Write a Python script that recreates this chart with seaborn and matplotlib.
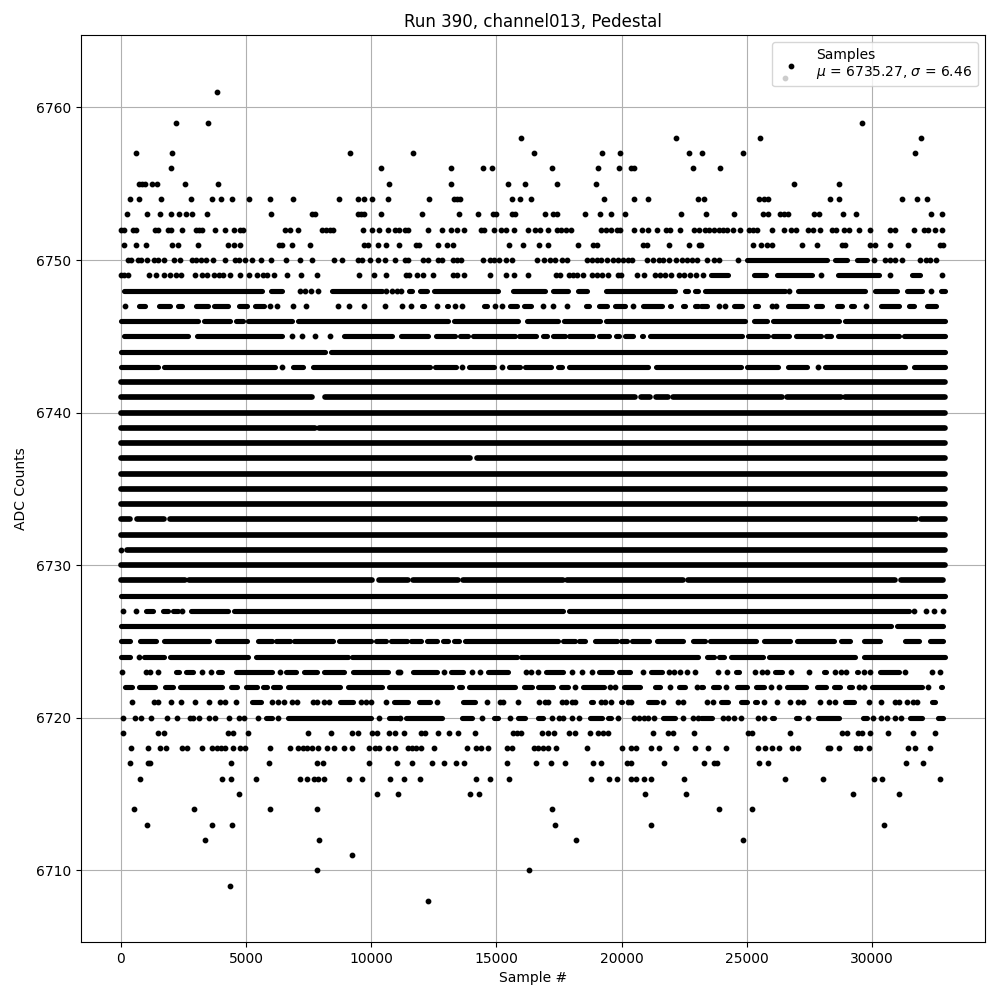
import matplotlib
matplotlib.use("Agg")
import matplotlib.pyplot as plt
from matplotlib.legend_handler import HandlerBase
from matplotlib.lines import Line2D
import pandas as pd
import seaborn as sns

# --- single samples, one list per ADC level ---
pts_6761 = [3842]
pts_6759 = [2203, 3482, 29609]
pts_6758 = [15985, 22179, 25533, 31967]
pts_6757 = [605, 2043, 9156, 11670, 16505, 19222, 19942, 22699, 23215, 24854, 31727]
pts_6756 = [2003, 10395, 13188, 14467, 14827, 17224, 19062, 19902, 20381, 20501, 22859, 23935]
pts_6755 = [725, 845, 965, 1231, 1444, 2563, 3882, 10715, 13188, 15466, 16145, 17424, 18983, 26892, 28690]
pts_6754 = [365, 725, 1604, 2803, 3642, 3988, 4441, 5120, 5960, 6879, 8717, 9476, 9716, 10036, 10675,
            12309, 13308, 13428, 13548, 15626, 15946, 16385, 19302, 20501, 21060, 23058,
            23295, 25493, 25693, 25853, 28330, 28690, 31207, 31807, 32207]
pts_6753 = [245, 1044, 1564, 2003, 2323, 2616, 2843, 3442, 6000, 7638, 7758, 9476, 9596, 9716, 10395,
            12029, 13508, 14267, 14867, 14986, 15626, 15746, 16945, 17264, 17424, 18543, 19142, 19582,
            20141, 22379, 23375, 24494, 25653, 25853, 26332, 26492, 26652, 27691, 27891, 28850, 29369,
            32366, 32806]
pts_6752 = [5, 112, 472, 592, 1364, 1484, 1884, 2003, 2443, 3002, 3122, 3242, 3762, 4148, 4521, 4761, 4881,
            6559, 6759, 7078, 8037, 8197, 8357, 8477, 9676, 10036, 10315, 10675, 10955, 11114,
            11350, 11470, 12269, 12829, 13188, 13428, 13708, 14387, 14507, 14907, 15186, 15386, 15706,
            16265, 16545, 16745, 17064, 17424, 17584, 17784, 17983, 19182, 19382, 19582, 19822, 19942,
            20501, 20821, 21060, 21420, 21780, 21940, 22339, 22899, 23098,
            23335, 23495, 23695, 23895, 24055, 24214, 24454, 24734, 25094, 25253, 25413, 26013, 26492,
            26772, 26972, 27451, 27651, 27931, 28410, 28570, 28890, 29090, 29489, 29929, 30728, 30928,
            31687, 32087, 32246, 32526, 32806]
pts_6751 = [125, 605, 1004, 2043, 2283, 3082, 4281, 4521, 4761, 6319, 6439, 6839, 7558, 9716, 9876, 10275,
            10595, 11114, 11790, 11910, 12669, 13028, 13268, 15506, 16065, 16705, 17064, 18263, 18863,
            19022, 20861, 21021, 21900, 22699, 23098, 23175, 25253, 25573, 25813, 26013, 27212, 27811,
            28810, 28930, 29929, 30129, 30728, 31447, 32726, 32846]
pts_6750 = [285, 405, 685, 805, 1058, 1324, 1484, 1724, 2123, 2363, 2843, 3016, 3216, 3415, 3682, 4161, 4561,
            4721, 4961, 5254, 5600, 6000, 6599, 7158, 7638, 8517, 8837, 9476, 9636, 9956, 10275, 10555,
            10955, 11350, 11470, 12069, 12269, 12669, 12829, 13268, 13428, 13588, 14467, 14747, 14907,
            15106, 15386, 15626, 16625, 16905, 17144, 17344, 17624, 17824, 18623, 18823, 19022, 19182,
            19422, 19662, 19862, 20061, 20261, 20421, 21021, 21260, 21500, 21660, 21900, 22179, 22419,
            22619, 22819, 23019, 23415, 23695, 23895, 24654, 30089, 30528, 30728, 30928, 31207, 31927,
            32167, 32326, 32566]
pts_6749 = [5, 125, 285, 1124, 1404, 1724, 1977, 2217, 2403, 2949, 3256, 3442, 3722, 3922, 4081, 4361, 4761,
            5120, 5440, 5680, 5840, 6120, 6639, 7198, 7838, 9516, 10115, 10595, 11390, 11510, 11830, 12069,
            12469, 13268, 13428, 13708, 14747, 15386, 15706, 16265, 17384, 17544, 17904, 18064, 18223,
            18463, 18823, 19022, 19222, 19462, 19862, 19981, 20621, 20901, 21340, 21540, 21740, 21980,
            22299, 22499, 22739, 22979, 23255, 27971, 30728, 32806]
pts_6748 = [7158, 7358, 7585, 7864, 10608, 10848, 11034, 11204, 26692, 32366]
pts_6747 = [179, 5960, 6239, 6879, 7398, 8677, 9116, 9716, 10555, 11230, 11603, 12629, 13348, 13628, 14947,
            15226, 16865, 17264, 17824, 20461, 23895, 24135, 26013, 26172, 29769]
pts_6745 = [6852, 7238, 7744, 8344]
pts_6743 = [6439, 13628, 15226, 27837]
pts_6731 = [19]
pts_6727 = [99, 618, 2443, 31687, 32167, 32486, 32832]
pts_6724 = [725]
pts_6723 = [45, 1004, 1164, 1484, 3242, 3602, 6359, 11074, 11137, 12909, 14027, 14347, 16185, 16385, 16665,
            18023, 18436, 18823, 20861, 21900, 22099, 22339, 22619, 22939, 23855, 24214, 25333, 25613,
            25813, 26772, 27491, 28530, 28770, 28970, 29689, 29929, 31327, 32406, 32726]
pts_6722 = [18143, 19542, 19742, 21940, 23019, 24174, 25973, 26292, 29489, 29689, 32246]
pts_6721 = [445, 1324, 1484, 2003, 2403, 2963, 3522, 3962, 4161, 4601, 6040, 6279, 6519, 6839, 7038, 7678,
            7838, 8117, 8317, 9596, 9796, 9996, 10595, 12629, 14627, 15146, 15266, 15866, 16705, 16945,
            17064, 17624, 17797, 18023, 18143, 19182, 19342, 19582, 20261, 20381, 21660, 22259, 22459,
            23415, 23655, 25693, 26212, 26732, 27052, 27252, 27931, 28290, 28530, 29889, 30368, 30928,
            31088, 31407, 31647, 31807]
pts_6720 = [85, 565, 805, 1204, 1844, 2243, 2763, 2883, 3122, 3522, 3762, 4321, 4721, 4921, 5480, 6279, 10315,
            11137, 14440, 15546, 17238, 17504, 17664, 18023, 18303, 19862, 20501, 20701, 20901, 21060,
            21300, 22432, 22859, 23058, 24055, 24255, 24494, 24774, 25453, 25693, 27451, 30049, 30368,
            30608, 30928, 31167]
pts_6719 = [85, 1484, 1724, 4281, 4481, 5080, 7478, 8397, 9236, 9476, 10036, 10235, 10715, 10955, 11310, 11989,
            12149, 12669, 13108, 13468, 14147, 15666, 15826, 15985, 16825, 17064, 17304, 17904, 18143,
            18729, 19062, 19262, 19462, 21260, 21860, 22059, 22899, 25054, 25213, 26732, 28810, 29010,
            29449, 29609, 29929, 30648, 31647, 32526]
pts_6718 = [405, 1084, 1564, 1804, 2443, 2643, 3242, 3642, 3842, 4001, 4161, 4481, 4761, 4961, 5960, 6745, 7078,
            7278, 7438, 7638, 7878, 8224, 8517, 8930, 9236, 9916, 10155, 10315, 10675, 10955, 11470, 11630,
            11790, 11989, 12509, 13828, 14187, 14387, 14667, 15426, 15626, 16505, 16665, 16865, 17064,
            17384, 18623, 20021, 20381, 20581, 21180, 21500, 22179, 22939, 23455, 24174, 25453, 25733,
            26013, 26292, 26812, 27052, 28250, 28330, 28690, 29369, 29529, 29889, 31447, 31727, 32326]
pts_6717 = [365, 1084, 1151, 4401, 5920, 7838, 8077, 9916, 11034, 11630, 12429, 12909, 13388, 13708, 15426,
            16585, 17184, 17744, 18863, 19182, 20221, 20381, 21700, 23295, 23695, 23815, 25493, 25853,
            31367, 32047]
pts_6716 = [765, 4041, 4401, 5400, 7158, 7438, 7718, 7878, 8117, 9116, 9636, 10755, 11310, 11950, 14187, 14747,
            15506, 18783, 19502, 19822, 20381, 20581, 20901, 21180, 22499, 26532, 28051, 30089, 30408, 32726]
pts_6715 = [4721, 10235, 11061, 13948, 14307, 20941, 22579, 29249, 31088]
pts_6714 = [525, 2923, 5960, 7838, 17224, 23895, 25213]
pts_6713 = [1044, 3642, 4441, 17344, 21180, 30488]
pts_6712 = [3362, 7918, 18183, 24854]
pts_6711 = [9236]
pts_6710 = [7838, 16305]
pts_6709 = [4361]
pts_6708 = [12269]

# --- stretches where the dots merge into a solid band: (first sample, last sample) ---
runs_full = [(0, 32912)]
runs_6750 = [(24934, 28250), (28450, 29050), (29330, 29849)]
runs_6749 = [(23522, 24321), (25213, 25813), (26132, 27651), (28570, 30315), (31527, 31967)]
runs_6748 = [(85, 5680), (5946, 6479), (8371, 10475), (11470, 11670), (11910, 12269), (12469, 15133),
             (15599, 16998), (17224, 17930), (18197, 18663), (19329, 22193), (22459, 22725), (22859, 23098),
             (23255, 26585), (26985, 29782), (30049, 31047), (31327, 32047), (32686, 32926)]
runs_6747 = [(685, 1018), (1484, 2017), (2243, 2483), (2949, 3549), (3682, 4348), (4681, 5080), (5320, 5773),
             (11008, 11141), (11989, 12149), (12988, 13108), (14467, 14667), (15506, 15866), (16065, 16425),
             (18543, 18743), (19062, 19462), (19662, 20195), (20794, 21660), (21860, 22020), (22379, 22579),
             (22859, 23098), (23122, 23455), (24414, 24854), (25253, 25520), (26585, 27451), (27691, 28051),
             (28530, 28850), (29090, 29316), (30288, 31114), (31407, 31727), (32127, 32606)]
runs_6746 = [(0, 3149), (3282, 4414), (4547, 4947), (5014, 6879), (7012, 13135), (13268, 15932), (16172, 17531),
             (17664, 19195), (19329, 24987), (25227, 25853), (25986, 28717), (28850, 32912)]
runs_6745 = [(85, 2749), (2989, 6479), (8877, 10875), (11137, 12336), (12536, 13401), (13508, 13908),
             (13998, 15799), (15866, 16625), (16798, 17064), (17198, 17797), (17864, 18929), (19062, 19555),
             (19795, 19902), (20061, 20527), (20754, 20927), (21060, 24854), (24987, 25920), (25986, 26719),
             (26918, 28024), (28117, 28424), (28583, 31114), (31221, 32912)]
runs_6744 = [(19, 8211), (8344, 32912)]
runs_6743 = [(19, 1551), (1684, 6213), (6812, 7345), (7611, 12402), (12509, 13441), (13868, 14973),
             (15466, 16000), (16092, 17237), (17397, 17664), (17864, 21127), (21327, 24827), (24947, 26319),
             (26585, 27451), (28050, 31381), (31607, 32912)]
runs_6741 = [(0, 7678), (8104, 20594), (20701, 21194), (21327, 21926), (21993, 26452), (26559, 28823),
             (28876, 32912)]
runs_6739 = [(0, 7811), (7878, 32912)]
runs_6737 = [(0, 14001), (14174, 32912)]
runs_6733 = [(0, 445), (578, 1777), (1897, 31807), (31887, 32912)]
runs_6731 = [(192, 32912)]
runs_6729 = [(19, 2616), (2683, 10075), (10249, 11510), (11603, 13508), (13601, 17730), (17771, 22526),
             (22592, 30981), (31087, 32846)]
runs_6727 = [(951, 1351), (1617, 1950), (2017, 2350), (2749, 4348), (4481, 17730), (17864, 31514)]
runs_6726 = [(19, 30821), (30954, 32846)]
runs_6725 = [(19, 418), (725, 1444), (1657, 3575), (3775, 5094), (5440, 6080), (6146, 6812), (6879, 8544),
             (8677, 10049), (10142, 10635), (10741, 11470), (11537, 12043), (12163, 12695), (12802, 13135),
             (13241, 13561), (13694, 17504), (17597, 18197), (18263, 18596), (18863, 19862), (19928, 20261),
             (20354, 21154), (21340, 22526), (22792, 23389), (23469, 25413), (25613, 26785), (26932, 28517),
             (28690, 29183), (29609, 30355), (31247, 31940), (32246, 32846)]
runs_6724 = [(0, 445), (858, 1790), (1897, 5147), (5333, 9116), (9170, 15866), (15932, 23125), (23335, 23761),
             (23815, 24148), (24294, 25720), (25813, 29383), (29622, 32912)]
runs_6723 = [(2163, 2363), (2563, 2923), (3842, 4081), (4561, 6080), (6559, 7038), (7278, 7878), (8077, 8957),
             (9236, 10741), (11630, 12669), (13148, 13708), (14627, 15506), (16945, 17704), (19062, 19662),
             (19822, 20381), (21100, 21660), (24494, 24734), (26053, 26452), (28011, 28210), (29329, 29489),
             (30248, 31128), (31767, 31887)]
runs_6722 = [(125, 525), (685, 1417), (1724, 2123), (2323, 4081), (4361, 4681), (4961, 5480), (5640, 5880),
             (6040, 6399), (6639, 8797), (9010, 10475), (10675, 13268), (13468, 13668), (13868, 15799),
             (16065, 16465), (16625, 17331), (17544, 17930), (18423, 19355), (20022, 20794), (21260, 21580),
             (22219, 22579), (23122, 23295), (23575, 23935), (24534, 25054), (25293, 25733), (26532, 27411),
             (27731, 28210), (28410, 28770), (29010, 29249), (29929, 32047), (32686, 32806)]
runs_6721 = [(5200, 5640), (8717, 9316), (10875, 11510), (11870, 12402), (13628, 14187), (18703, 18903),
             (19902, 20061), (20981, 21460), (23895, 24294), (24694, 25054), (25253, 25453), (28850, 29329),
             (32326, 32566)]
runs_6720 = [(5760, 6080), (6639, 10036), (10675, 11114), (11350, 12869), (13588, 14094), (14867, 15106),
             (15826, 16185), (16625, 16905), (18663, 19262), (19395, 19622), (21580, 22193), (23122, 23655),
             (25054, 25173), (25933, 26132), (26892, 27132), (27771, 28717), (29569, 29849), (31447, 32047),
             (32566, 32846)]

point_levels = {
    6761: pts_6761, 6759: pts_6759, 6758: pts_6758, 6757: pts_6757, 6756: pts_6756, 6755: pts_6755,
    6754: pts_6754, 6753: pts_6753, 6752: pts_6752, 6751: pts_6751, 6750: pts_6750, 6749: pts_6749,
    6748: pts_6748, 6747: pts_6747, 6745: pts_6745, 6743: pts_6743, 6731: pts_6731, 6727: pts_6727,
    6724: pts_6724, 6723: pts_6723, 6722: pts_6722, 6721: pts_6721, 6720: pts_6720, 6719: pts_6719,
    6718: pts_6718, 6717: pts_6717, 6716: pts_6716, 6715: pts_6715, 6714: pts_6714, 6713: pts_6713,
    6712: pts_6712, 6711: pts_6711, 6710: pts_6710, 6709: pts_6709, 6708: pts_6708,
}
run_levels = {
    6750: runs_6750, 6749: runs_6749, 6748: runs_6748, 6747: runs_6747, 6746: runs_6746, 6745: runs_6745,
    6744: runs_6744, 6743: runs_6743, 6742: runs_full, 6741: runs_6741, 6740: runs_full, 6739: runs_6739,
    6738: runs_full, 6737: runs_6737, 6736: runs_full, 6735: runs_full, 6734: runs_full, 6733: runs_6733,
    6732: runs_full, 6731: runs_6731, 6730: runs_full, 6729: runs_6729, 6728: runs_full, 6727: runs_6727,
    6726: runs_6726, 6725: runs_6725, 6724: runs_6724, 6723: runs_6723, 6722: runs_6722, 6721: runs_6721,
    6720: runs_6720,
}

# run ends were read at the visible edge of the band, the round cap adds about this much again
CAP_SAMPLES = 55


class SamplesHandler(HandlerBase):
    # the legend key has a black dot and a faint grey one below it
    def create_artists(self, legend, orig_handle, xdescent, ydescent, width, height, fontsize, trans):
        cx = width / 2 - xdescent
        cy = height * 0.5 - ydescent - 0.7
        grey = Line2D([cx - 4.3], [cy - 8.6], marker="o", ms=3.16, mew=1, color="#cccccc", ls="", transform=trans)
        black = Line2D([cx], [cy], marker="o", ms=3.16, mew=1, color="black", ls="", transform=trans)
        return [grey, black]


def trimmed(run):
    first, last = run
    if last - first <= 2 * CAP_SAMPLES:
        return first, last
    if first > CAP_SAMPLES:
        first += CAP_SAMPLES
    if last < 32800:
        last -= CAP_SAMPLES
    return first, last


rows = [(s, level) for level, samples in point_levels.items() for s in samples]
df = pd.DataFrame(rows, columns=["sample", "adc"])

fig, ax = plt.subplots(figsize=(10, 10), dpi=100)
fig.subplots_adjust(left=0.0805, right=0.985, top=0.965, bottom=0.058)

sns.scatterplot(data=df, x="sample", y="adc", color="black", s=10, linewidth=1, edgecolor="black",
                zorder=3, legend=False, ax=ax)

# solid bands, the rows far from the mean are beaded in the picture so they read thinner
for level, runs in run_levels.items():
    parts = [trimmed(r) for r in runs]
    width = 4.1 if 6729 <= level <= 6742 else 3.7
    ax.hlines([level] * len(parts), [p[0] for p in parts], [p[1] for p in parts],
              colors="black", linewidth=width, capstyle="round", zorder=3)

ax.set_xlim(-1606, 34510)
ax.set_ylim(6705.3, 6764.75)
ax.grid(True)
ax.set_title("Run 390, channel013, Pedestal")
ax.set_xlabel("Sample #")
ax.set_ylabel("ADC Counts", labelpad=5.5)

key = Line2D([], [], color="black")
ax.legend([key], ["Samples\n$\\mu$ = 6735.27, $\\sigma$ = 6.46"], loc="upper right",
          handler_map={Line2D: SamplesHandler()})

plt.savefig("out.png", dpi=100)
